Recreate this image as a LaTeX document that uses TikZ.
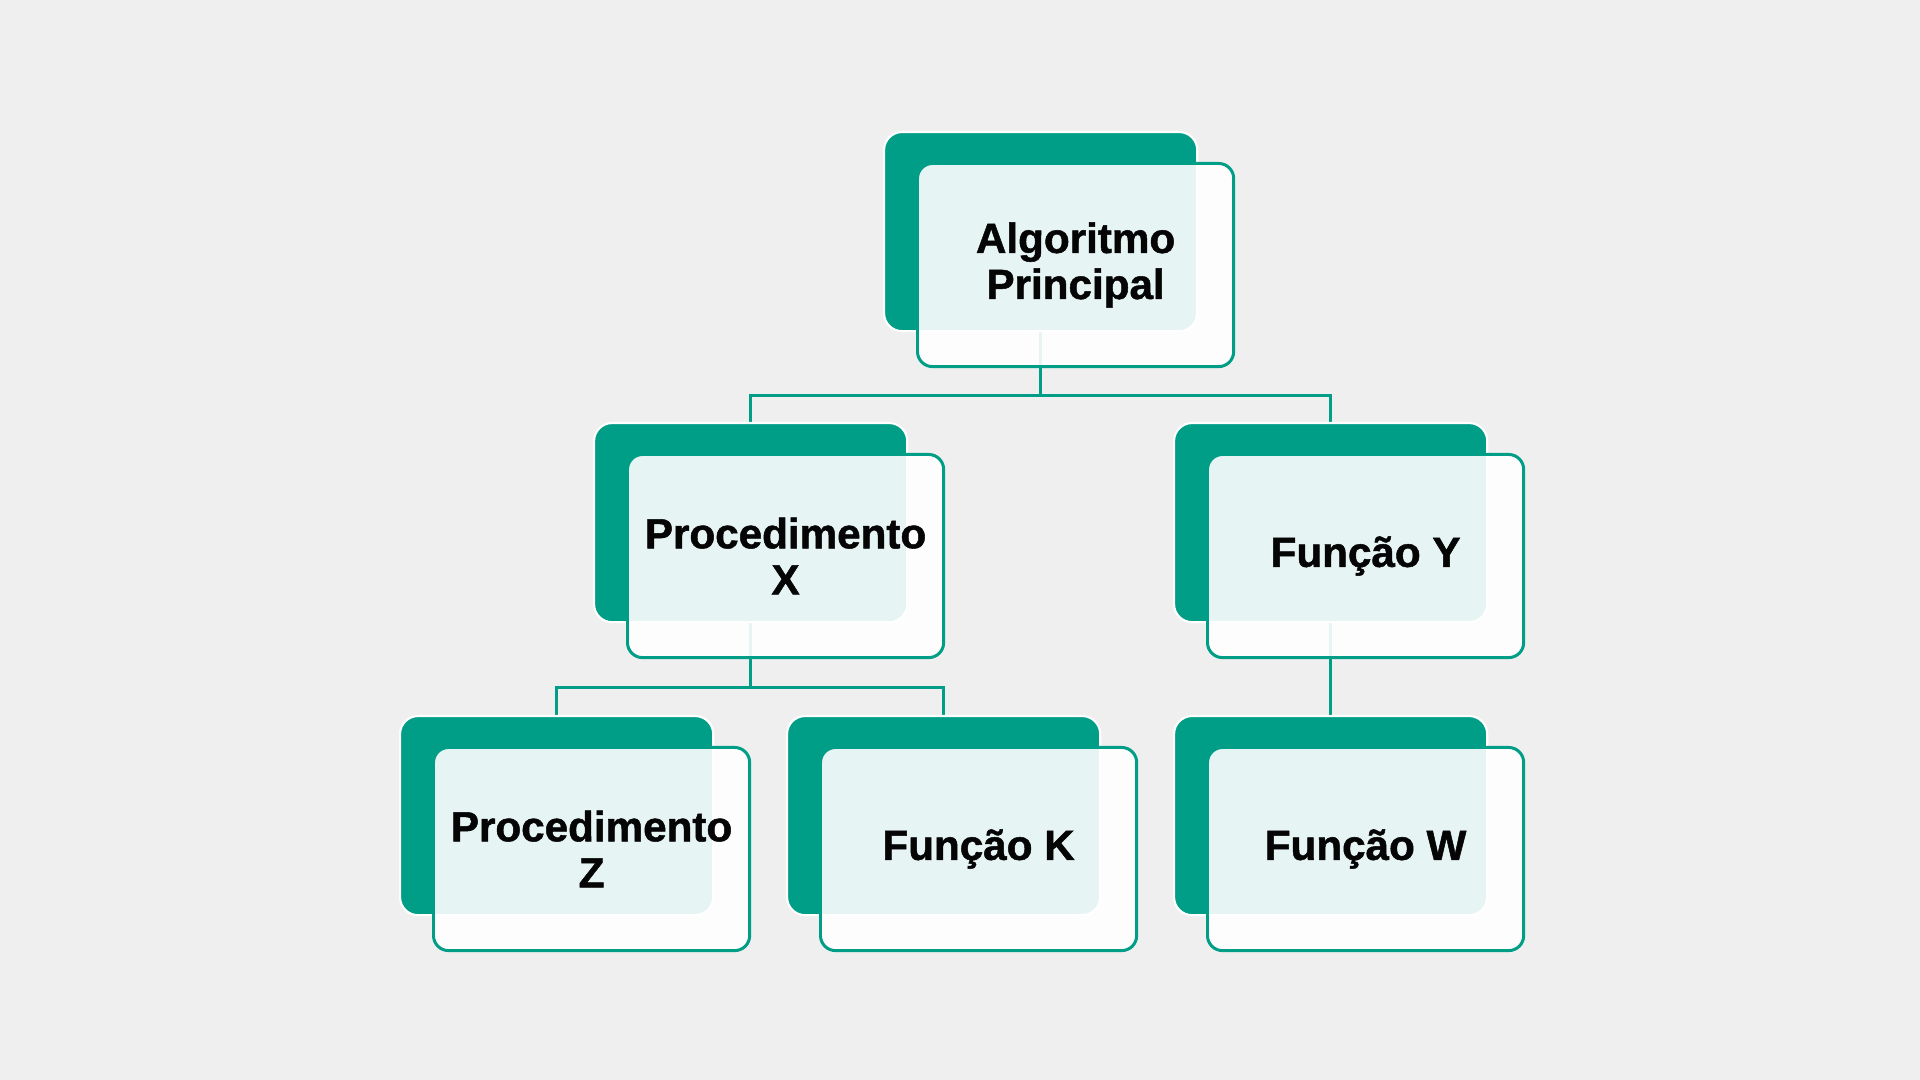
\documentclass[tikz,border=0pt]{standalone}
\usepackage{fontspec}
\usepackage{xcolor}
\usepackage{tikz}
\usetikzlibrary{positioning,calc,backgrounds}
\newfontfamily\cardfont{Liberation Sans}[BoldFeatures={FakeBold=1.2}]
\definecolor{cTeal}{HTML}{009E86}
\definecolor{cCanvas}{HTML}{EFEFEF}
\definecolor{cInk}{HTML}{050505}
\tikzset{
  cardback/.style  = {rectangle, rounded corners=0.18cm, draw=white, fill=cTeal,
                      line width=0.6pt, anchor=north west,
                      minimum width=3.13cm, minimum height=1.99cm},
  cardfront/.style = {rectangle, rounded corners=0.15cm, draw=cTeal, fill=white,
                      fill opacity=0.9, text opacity=1, line width=0.85pt,
                      anchor=north west, minimum width=3.16cm, minimum height=2.03cm,
                      align=center, text=cInk,
                      font=\cardfont\bfseries\fontsize{12}{13.1}\selectfont},
  link/.style      = {draw=cTeal, line width=0.85pt},
}
\newcommand{\card}[4]{%
  \node[cardback] (#1-b) at (#2,#3) {};
  \node[cardfront] (#1) at ($(#1-b.north west)+(33,31)$) {#4};}

\begin{document}
\begin{tikzpicture}[x=0.01cm, y=-0.01cm]
  \begin{scope}[on background layer]
    \fill[cCanvas] (0,0) rectangle (1920,1080);
  \end{scope}

  \card{alg}{883}{131}{Algoritmo\\Principal}
  \card{px}{593}{422}{Procedimento\\X}
  \card{fy}{1173}{422}{Função Y}
  \card{pz}{399}{715}{Procedimento\\Z}
  \card{fk}{786}{715}{Função K}
  \card{fw}{1173}{715}{Função W}

  % tree links, kept under the cards
  \coordinate (bus1) at ($(alg.south)!0.5!(px-b.north)$);
  \coordinate (bus2) at ($(px.south)!0.5!(pz-b.north)$);
  \begin{scope}[on background layer]
    \draw[link] (alg-b.south) -- (alg-b.south |- bus1) -| (px-b.north);
    \draw[link] (alg-b.south |- bus1) -| (fy-b.north);
    \draw[link] (px-b.south) -- (px-b.south |- bus2) -| (pz-b.north);
    \draw[link] (px-b.south |- bus2) -| (fk-b.north);
    \draw[link] (fy-b.south) -- (fw-b.north);
  \end{scope}
\end{tikzpicture}
\end{document}
